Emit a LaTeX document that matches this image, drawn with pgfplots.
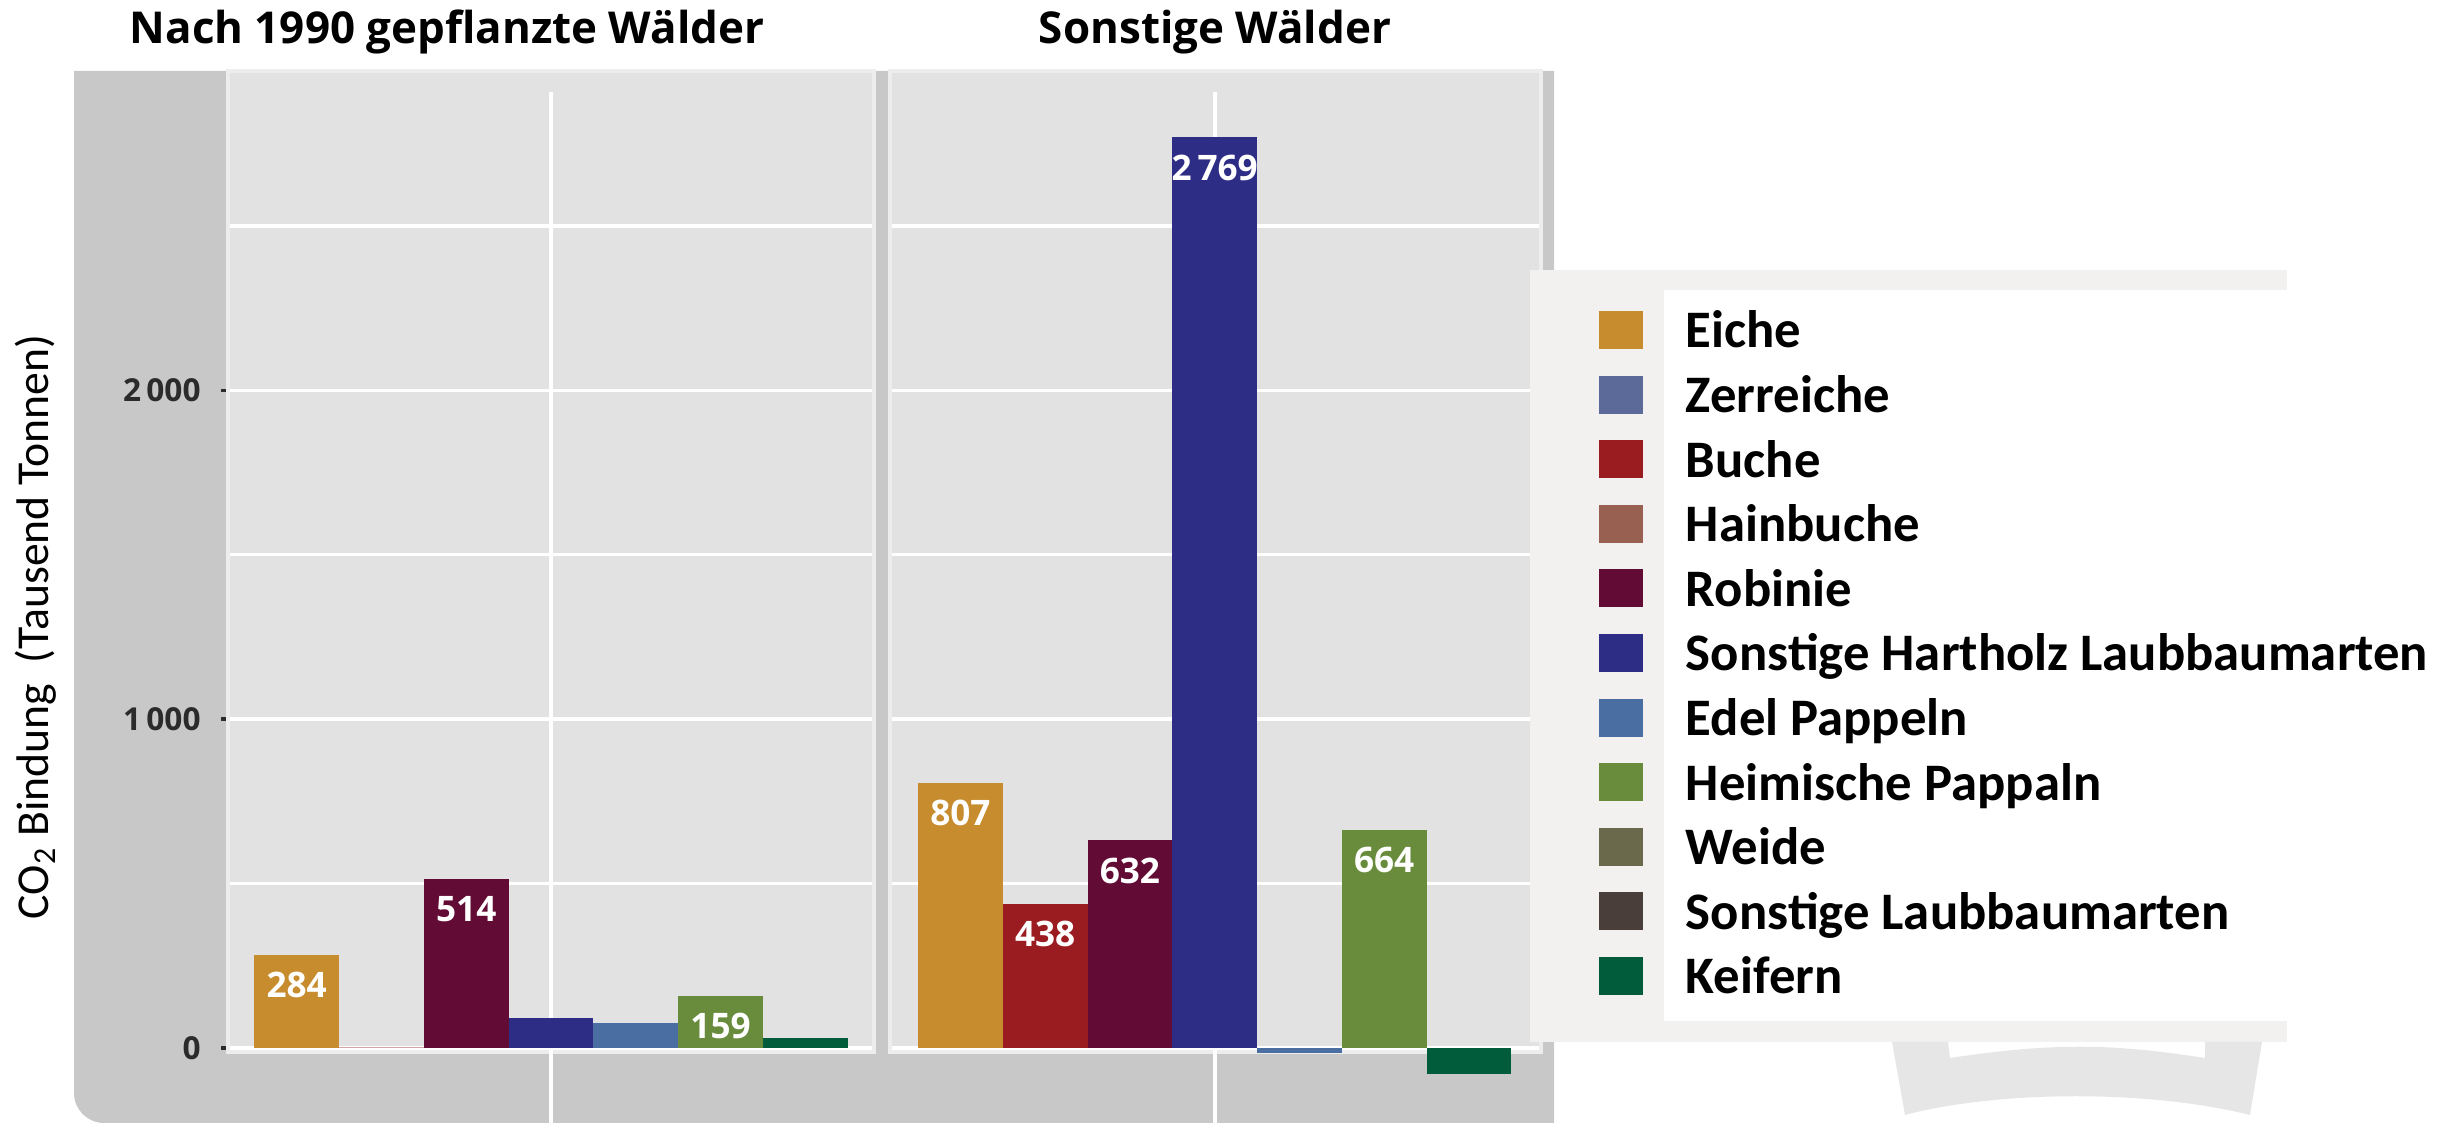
\documentclass[border=0pt]{standalone}
\usepackage{pgfplots}
\pgfplotsset{compat=1.18}
\usepackage{fontspec}
\setmainfont{Carlito}
\newfontfamily\osans{Open Sans}

\definecolor{eiche}{HTML}{C68C2E}
\definecolor{zerreiche}{HTML}{5B6A98}
\definecolor{buche}{HTML}{9A1C21}
\definecolor{hainbuche}{HTML}{976050}
\definecolor{robinie}{HTML}{620B34}
\definecolor{shl}{HTML}{2E2D86}
\definecolor{edel}{HTML}{4A6EA1}
\definecolor{heim}{HTML}{688C3C}
\definecolor{weide}{HTML}{6A694C}
\definecolor{sonstlb}{HTML}{4A3E3B}
\definecolor{keifern}{HTML}{005C3A}
\definecolor{outergray}{HTML}{C8C8C8}
\definecolor{panelgray}{HTML}{E2E2E2}
\definecolor{panelline}{HTML}{EDEDED}
\definecolor{legout}{HTML}{F2F1EF}
\definecolor{wmark}{HTML}{E6E6E6}
\definecolor{ticktext}{HTML}{2B2B2B}

\pgfplotsset{
  panel/.style={
    scale only axis, anchor=south west,
    height=9.81cm, ymin=-12, ymax=2971,
    clip=false,
    axis background/.style={fill=panelgray},
    axis line style={draw=panelline, line width=1.4pt},
    xtick=\empty,
    ytick={0,1000,2000}, minor ytick={500,1500,2500},
    ymajorgrids, yminorgrids,
    major grid style={white, line width=1pt},
    minor grid style={white, line width=1pt},
    tick align=outside, ytick pos=left,
    major tick length=0.07cm, minor tick length=0pt,
    every axis plot/.append style={ybar, bar width=1, bar shift=0pt, draw=none},
  },
  lbl/.style={
    nodes near coords, point meta=explicit symbolic,
    nodes near coords style={font=\osans\bfseries\fontsize{10}{12}\selectfont,
      text=white, anchor=north, yshift=-0.05cm},
  },
}

\begin{document}
\begin{tikzpicture}
\useasboundingbox (0,0) rectangle (24.61,11.23);

% grey plot background
\fill[outergray] (0.74,0.3) arc[start angle=180, end angle=270, radius=0.3]
  -- (15.54,0) -- (15.54,10.52) -- (0.74,10.52) -- cycle;

\node[font=\osans\bfseries\fontsize{12.5}{14}\selectfont, anchor=base] at (4.47,10.79) {Nach 1990 gepflanzte Wälder};
\node[font=\osans\bfseries\fontsize{12.5}{14}\selectfont, anchor=base] at (12.15,10.79) {Sonstige Wälder};
\node[rotate=90, font=\fontsize{13}{15}\selectfont] at (0.36,4.96) {CO\textsubscript{2} Bindung\ \ (Tausend Tonnen)};

% left panel
\begin{axis}[panel, at={(2.28cm,0.71cm)}, width=6.46cm,
  xmin=-0.81, xmax=6.81,
  yticklabels={0,1\,000,2\,000},
  ytick style={draw=ticktext, line width=1pt},
  yticklabel style={font=\osans\bfseries\fontsize{9}{10}\selectfont, text=ticktext, xshift=-0.08cm},
]
\draw[white, line width=1.2pt] (axis cs:3,2908) -- (axis cs:3,-240);
\addplot[fill=eiche, lbl] coordinates {(0,284) [284]};
\addplot[fill=buche!40] coordinates {(1,3)};
\addplot[fill=robinie, lbl] coordinates {(2,514) [514]};
\addplot[fill=shl] coordinates {(3,91)};
\addplot[fill=edel] coordinates {(4,76)};
\addplot[fill=heim, lbl] coordinates {(5,159) [159]};
\addplot[fill=keifern] coordinates {(6,30)};
\end{axis}

% right panel
\begin{axis}[panel, at={(8.90cm,0.71cm)}, width=6.51cm,
  xmin=-0.83, xmax=6.85,
  yticklabels={}, major tick length=0pt,
]
\draw[white, line width=1.2pt] (axis cs:3,2908) -- (axis cs:3,-240);
\addplot[fill=eiche, lbl] coordinates {(0,807) [807]};
\addplot[fill=buche, lbl] coordinates {(1,438) [438]};
\addplot[fill=robinie, lbl] coordinates {(2,632) [632]};
\addplot[fill=shl, lbl] coordinates {(3,2769) [2\,769]};
\addplot[fill=edel] coordinates {(4,-15)};
\addplot[fill=heim, lbl] coordinates {(5,664) [664]};
\addplot[fill=keifern] coordinates {(6,-80)};
\end{axis}

% legend boxes
\fill[legout] (15.30,0.81) rectangle (22.87,8.53);
\fill[white] (16.64,1.02) rectangle (22.87,8.33);
% faint watermark below the legend
\fill[wmark] (18.92,0.81) -- (19.48,0.81) -- (19.50,0.65)
  .. controls (20.50,0.80) and (21.10,0.80) .. (22.05,0.65)
  -- (22.05,0.81) -- (22.62,0.81) -- (22.50,0.08)
  .. controls (21.50,0.33) and (20.00,0.33) .. (19.05,0.08) -- cycle;

% legend
\begin{axis}[at={(0,0)}, anchor=south west, scale only axis,
  width=24.61cm, height=11.23cm, xmin=0, xmax=1, ymin=0, ymax=1, hide axis,
  legend image code/.code={\fill[#1, draw=none] (0cm,-0.18cm) rectangle (0.44cm,0.20cm);},
  legend cell align=left,
  legend style={at={(0.6497,0.7231)}, anchor=north west, draw=none, fill=none,
    inner sep=0pt, outer sep=0pt, row sep=0.266cm, column sep=0.43cm,
    font=\bfseries\fontsize{15}{15}\selectfont,
    nodes={inner sep=0pt, text height=0.34cm, text depth=0cm}},
]
\addlegendimage{fill=eiche}\addlegendentry{Eiche}
\addlegendimage{fill=zerreiche}\addlegendentry{Zerreiche}
\addlegendimage{fill=buche}\addlegendentry{Buche}
\addlegendimage{fill=hainbuche}\addlegendentry{Hainbuche}
\addlegendimage{fill=robinie}\addlegendentry{Robinie}
\addlegendimage{fill=shl}\addlegendentry{Sonstige Hartholz Laubbaumarten}
\addlegendimage{fill=edel}\addlegendentry{Edel Pappeln}
\addlegendimage{fill=heim}\addlegendentry{Heimische Pappaln}
\addlegendimage{fill=weide}\addlegendentry{Weide}
\addlegendimage{fill=sonstlb}\addlegendentry{Sonstige Laubbaumarten}
\addlegendimage{fill=keifern}\addlegendentry{Keifern}
\end{axis}
\end{tikzpicture}
\end{document}
